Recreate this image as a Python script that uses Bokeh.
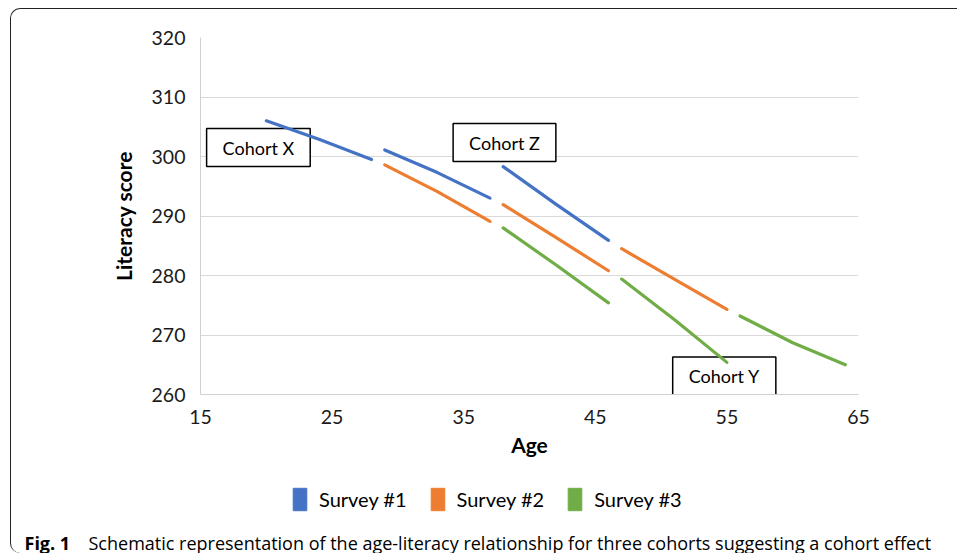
from bokeh.plotting import figure
from bokeh.models import Range1d, Label, Legend, LegendItem, FixedTicker
from bokeh.layouts import column, row
from bokeh.embed import file_html
from bokeh.resources import INLINE

# ---- data ----
series_names = ["Survey #1", "Survey #2", "Survey #3"]
series_colors = ["#4472C4", "#ED7D31", "#70AD47"]

ages_s1 = [[20, 24, 28], [29, 33, 37], [38, 42, 46]]
scores_s1 = [[306.0, 302.9, 299.5], [301.1, 297.3, 293.0], [298.3, 292.0, 285.9]]

ages_s2 = [[29, 33, 37], [38, 42, 46], [47, 51, 55]]
scores_s2 = [[298.6, 294.1, 289.1], [291.9, 286.4, 280.8], [284.5, 279.4, 274.3]]

ages_s3 = [[38, 42, 46], [47, 51, 55], [56, 60, 64]]
scores_s3 = [[288.0, 281.8, 275.4], [279.4, 272.6, 265.4], [273.2, 268.7, 265.0]]

x_ticks = [15, 25, 35, 45, 55, 65]
y_ticks = [260, 270, 280, 290, 300, 310, 320]

cohort_labels = ["Cohort X", "Cohort Z", "Cohort Y"]
cohort_age = [19.4, 38.1, 54.8]
cohort_score = [301.5, 302.35, 263.1]

caption_bold = "Fig. 1"
caption_text = "Schematic representation of the age-literacy relationship for three cohorts suggesting a cohort effect"

FONT = "Lato"
CAP_FONT = "Open Sans"
BORDER = "#222222"

# page geometry (px)
OX, OY = 11, 9          # content origin inside the bordered box
W = 957 - OX
MAIN_H = 456
BOT_H = 553 - OY - MAIN_H
FRAME_L, FRAME_R, FRAME_T, FRAME_B = 200, 858, 37, 394

# ---- main chart ----
p = figure(width=W, height=MAIN_H, x_range=Range1d(15, 65), y_range=Range1d(260, 320),
           output_backend="svg", toolbar_location=None,
           min_border_left=FRAME_L - OX, min_border_right=OX + W - FRAME_R,
           min_border_top=FRAME_T - OY, min_border_bottom=OY + MAIN_H - FRAME_B)
p.outline_line_color = None
p.background_fill_color = "white"
p.border_fill_alpha = 0

p.xgrid.grid_line_color = None
p.ygrid.grid_line_color = "#D9D9D9"
p.ygrid.grid_line_width = 1
p.ygrid.level = "image"

p.xaxis.ticker = FixedTicker(ticks=x_ticks)
p.yaxis.ticker = FixedTicker(ticks=y_ticks)
for ax in (p.xaxis, p.yaxis):
    ax.axis_line_color = "#D0D0D0"
    ax.axis_line_width = 1
    ax.major_tick_in = 0
    ax.major_tick_out = 0
    ax.minor_tick_in = 0
    ax.minor_tick_out = 0
    ax.major_label_text_font = FONT
    ax.major_label_text_font_size = "19.5px"
    ax.major_label_text_color = "#1a1a1a"
    ax.axis_label_text_font = FONT
    ax.axis_label_text_font_size = "21px"
    ax.axis_label_text_font_style = "bold"
    ax.axis_label_text_color = "#000000"

p.xaxis.axis_label = "Age"
p.yaxis.axis_label = "Literacy score"
p.xaxis.major_label_standoff = 15
p.xaxis.axis_label_standoff = 5
p.yaxis.major_label_standoff = 15
p.yaxis.axis_label_standoff = 13

for lab, ax_, ay_ in zip(cohort_labels, cohort_age, cohort_score):
    p.add_layout(Label(x=ax_, y=ay_, text=lab, text_align="center", text_baseline="middle",
                       text_font=FONT, text_font_size="18px", text_color="#000000",
                       background_fill_color="white", border_line_color="black",
                       border_line_width=1.5, padding=(16, 8), level="underlay"))

ages = [ages_s1, ages_s2, ages_s3]
scores = [scores_s1, scores_s2, scores_s3]
for col, xs, ys in zip(series_colors, ages, scores):
    p.multi_line(xs=xs, ys=ys, line_color=col, line_width=3.2, line_cap="round")

# ---- bottom strip: legend + caption (page-pixel coordinates) ----
BOT_Y0 = OY + MAIN_H
p_bot = figure(width=W, height=BOT_H,
               x_range=Range1d(OX, OX + W), y_range=Range1d(BOT_Y0 + BOT_H, BOT_Y0),
               min_border=0, x_axis_location=None, y_axis_location=None,
               toolbar_location=None, output_backend="svg")
p_bot.outline_line_color = None
p_bot.background_fill_alpha = 0
p_bot.border_fill_alpha = 0
p_bot.grid.visible = False

nan = float("nan")
items = []
for name, col in zip(series_names, series_colors):
    qr = p_bot.quad(left=[nan], right=[nan], top=[nan], bottom=[nan],
                    fill_color=col, line_color=col)
    items.append(LegendItem(label=name, renderers=[qr]))

legend = Legend(items=items, location=(291 - OX, 553 - 513), orientation="horizontal",
                glyph_width=17, glyph_height=28, label_text_font=FONT,
                label_text_font_size="20px", label_text_color="#000000",
                label_standoff=11, spacing=22, padding=0, margin=0,
                border_line_color=None, background_fill_alpha=0)
p_bot.add_layout(legend, "center")

p_bot.add_layout(Label(x=24, y=542, text=caption_bold, text_font=CAP_FONT, text_font_size="18px",
                       text_font_style="bold", text_baseline="alphabetic", text_color="#000000"))
p_bot.add_layout(Label(x=88, y=542, text=caption_text, text_font=CAP_FONT, text_font_size="18px",
                       text_baseline="alphabetic", text_color="#000000"))

layout = column(row(p), p_bot, margin=(OY - 1, 0, 0, OX - 1),
                styles={"border-left": "1px solid " + BORDER,
                        "border-top": "1px solid " + BORDER,
                        "border-top-left-radius": "10px",
                        "border-bottom-left-radius": "10px"})

open("out.html", "w").write(file_html(layout, INLINE))
